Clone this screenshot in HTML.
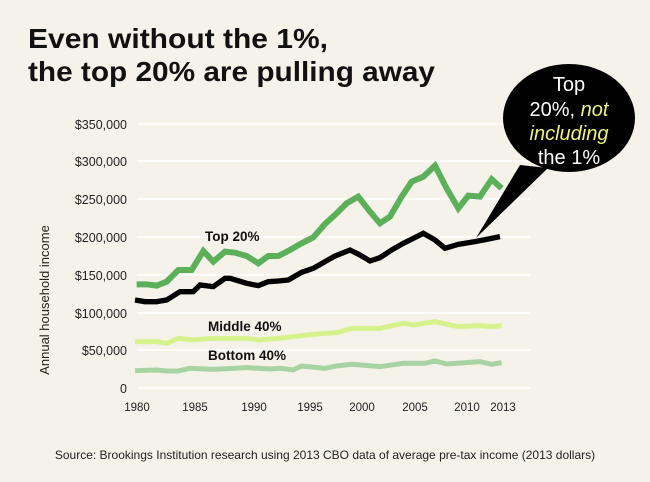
<!DOCTYPE html>
<html><head><meta charset="utf-8"><style>
body{margin:0;background:#f5f2ea;}
svg{display:block;font-family:"Liberation Sans",sans-serif;}
</style></head><body>
<svg width="650" height="482" viewBox="0 0 650 482">
<rect width="650" height="482" fill="#f5f2ea"/>
<text x="28" y="48" font-size="28" font-weight="bold" fill="#111" textLength="300" lengthAdjust="spacingAndGlyphs">Even without the 1%,</text>
<text x="28" y="81" font-size="28" font-weight="bold" fill="#111" textLength="407" lengthAdjust="spacingAndGlyphs">the top 20% are pulling away</text>
<g stroke="#ffffff" stroke-width="1.5">
<line x1="137" y1="124" x2="530" y2="124"/>
<line x1="137" y1="161" x2="530" y2="161"/>
<line x1="137" y1="199" x2="530" y2="199"/>
<line x1="137" y1="237" x2="530" y2="237"/>
<line x1="137" y1="275" x2="530" y2="275"/>
<line x1="137" y1="313" x2="530" y2="313"/>
<line x1="137" y1="350" x2="530" y2="350"/>
<line x1="137" y1="388" x2="530" y2="388"/>
</g>
<g font-size="12.5" fill="#222" text-anchor="end">
<text x="127" y="129">$350,000</text>
<text x="127" y="166">$300,000</text>
<text x="127" y="204">$250,000</text>
<text x="127" y="242">$200,000</text>
<text x="127" y="280">$150,000</text>
<text x="127" y="318">$100,000</text>
<text x="127" y="355">$50,000</text>
<text x="127" y="393">0</text>
</g>
<text transform="translate(49,300) rotate(-90)" font-size="13" fill="#222" text-anchor="middle">Annual household income</text>
<g font-size="11.5" fill="#222" text-anchor="middle">
<text x="137" y="411">1980</text>
<text x="195" y="411">1985</text>
<text x="254" y="411">1990</text>
<text x="310" y="411">1995</text>
<text x="362" y="411">2000</text>
<text x="415" y="411">2005</text>
<text x="467" y="411">2010</text>
<text x="503" y="411">2013</text>
</g>
<g transform="translate(130,150) scale(0.3333)" fill="none" stroke-linejoin="miter">
<polyline stroke="#a8d4a4" stroke-width="15" points="15,662 80,660 110,663 145,663 180,655 250,658 350,653 420,657 450,655 490,660 515,648 585,655 620,648 665,643 750,650 820,640 885,640 915,633 950,642 1050,635 1085,643 1115,638"/>
<polyline stroke="#d6f28a" stroke-width="15" points="15,575 80,575 110,580 145,565 185,570 250,565 350,565 385,570 445,565 550,553 620,548 665,535 750,535 820,520 850,525 915,515 985,530 1050,527 1085,530 1115,527"/>
<polyline stroke="#5cb05a" stroke-width="18" points="20,403 50,403 80,407 110,395 145,360 185,360 220,303 250,335 285,305 315,308 350,318 385,340 415,318 445,318 480,300 515,280 550,262 585,222 620,190 650,160 685,140 720,185 750,220 780,200 815,140 845,95 880,80 915,47 950,115 985,175 1015,137 1050,140 1085,88 1115,115"/>
<polyline stroke="#000" stroke-width="16" points="15,450 45,455 80,455 110,450 150,425 190,425 210,405 250,410 285,385 300,385 350,400 385,407 415,395 445,393 475,390 515,367 550,355 585,335 615,318 660,300 690,315 720,333 750,323 785,300 820,280 850,265 880,250 915,270 945,295 985,283 1035,275 1070,268 1110,260"/>
</g>
<g font-size="13.5" font-weight="bold" fill="#111">
<text x="205" y="241">Top 20%</text>
<text x="208" y="331">Middle 40%</text>
<text x="208" y="360">Bottom 40%</text>
</g>
<polygon points="520,165 548,168 476,238" fill="#000"/>
<ellipse cx="569" cy="118" rx="66" ry="54" fill="#000"/>
<g font-size="20" fill="#fff" text-anchor="middle">
<text x="569" y="91">Top</text>
<text x="569" y="116">20%, <tspan fill="#f2f27a" font-style="italic">not</tspan></text>
<text x="569" y="140" fill="#f2f27a" font-style="italic">including</text>
<text x="569" y="164">the 1%</text>
</g>
<text x="325" y="459" font-size="12" fill="#222" text-anchor="middle">Source: Brookings Institution research using 2013 CBO data of average pre-tax income (2013 dollars)</text>
</svg>
</body></html>
